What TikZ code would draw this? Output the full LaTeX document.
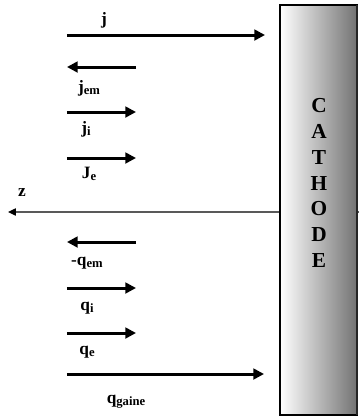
\documentclass[tikz,border=0pt]{standalone}
\usepackage{fontspec}
\setmainfont{Liberation Serif}
\usetikzlibrary{arrows.meta}
\newcommand{\lsub}[1]{\raisebox{-0.3ex}{\fontsize{9.5}{10}\selectfont #1}}
\begin{document}
\begin{tikzpicture}[x=0.75pt,y=-0.75pt,>={Triangle[length=8pt,width=8pt]},
  flux/.style={line width=2.25pt,->},
  lab/.style={font=\bfseries\fontsize{13}{15}\selectfont,inner sep=1pt}]
	\useasboundingbox (0,0) rectangle (359,419);
	% axe z
	\draw[black!65,line width=1pt,-{Triangle[length=6pt,width=5.5pt,color=black]}] (359,212) -- (8,212);
	\node[lab] (z) at (22,193) {z};
	% cathode
	\shade[left color=white,right color=black!55,draw=black,line width=0.8pt] (280,5) rectangle (357,415);
	\draw[black!85,line width=1.4pt] (357.3,5) -- (357.3,415);
	\node[font=\bfseries\fontsize{16}{19.3}\selectfont,align=center] (cath) at (319,183) {C\\A\\T\\H\\O\\D\\E};
	% courants
	\draw[flux] (67,35) -- (265,35);   \node[lab] (j) at (104,20) {j};
	\draw[flux] (136,67) -- (67,67);   \node[lab] (jem) at (89,88) {j\lsub{em}};
	\draw[flux] (67,112) -- (136,112); \node[lab] (ji) at (86,129) {j\lsub{i}};
	\draw[flux] (67,158) -- (136,158); \node[lab] (je) at (89,174) {J\lsub{e}};
	% flux de chaleur
	\draw[flux] (136,242) -- (67,242); \node[lab] (qem) at (87,263) {-q\lsub{em}};
	\draw[flux] (67,288) -- (136,288); \node[lab] (qi) at (87,308) {q\lsub{i}};
	\draw[flux] (67,333) -- (136,333); \node[lab] (qe) at (87,352) {q\lsub{e}};
	\draw[flux] (67,374) -- (264,374); \node[lab] (qg) at (126,402) {q\lsub{gaine}};
\end{tikzpicture}
\end{document}
